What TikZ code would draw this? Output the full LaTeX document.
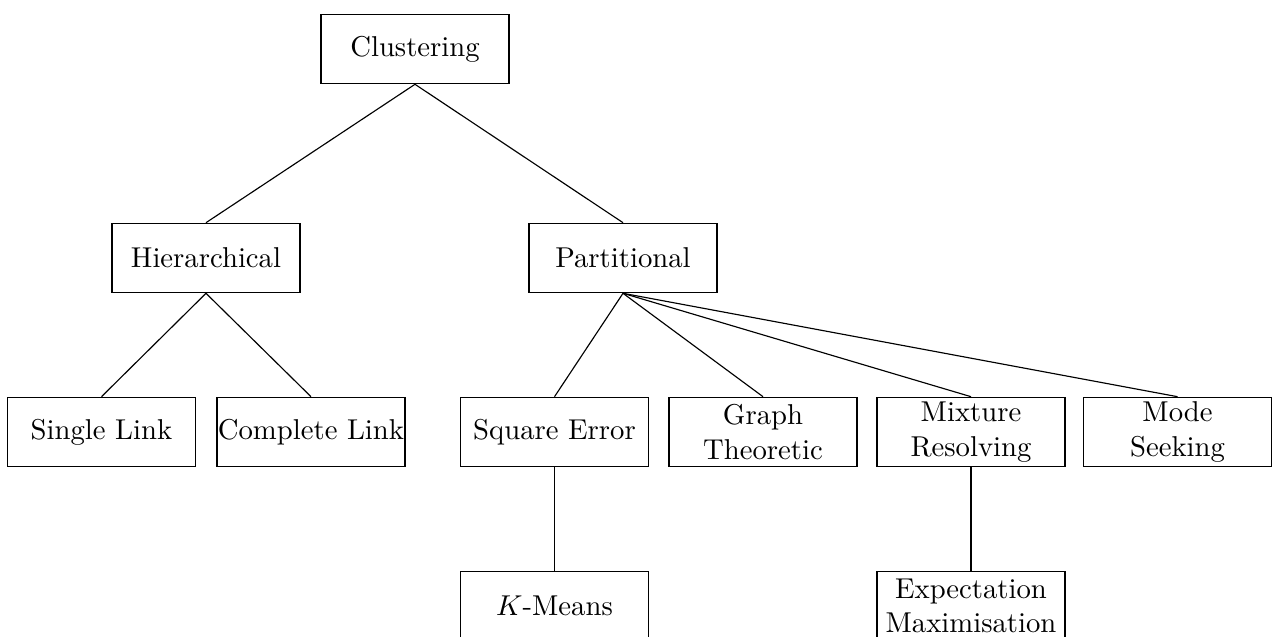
\documentclass[tikz,border=0pt]{standalone}
\begin{document}
\begin{tikzpicture}[x=0.3484pt,y=-0.3484pt,
  box/.style={draw, rectangle, align=center, minimum width=65.5pt,
    minimum height=24.2pt, inner xsep=0pt, inner ysep=1.5pt},
  branch/.style={draw, line width=0.4pt}]
\useasboundingbox (0,0) rectangle (1272,637);

% root and first level
\node[box] (clu)  at (415,49)  {Clustering};
\node[box] (hier) at (206,258) {Hierarchical};
\node[box] (part) at (623,258) {Partitional};

% second level
\node[box] (single)   at (101.5,432) {Single Link};
\node[box] (complete) at (311,432)   {Complete Link};
\node[box] (square)   at (554.5,432) {Square Error};
\node[box] (graph)    at (763,432)   {Graph\\Theoretic};
\node[box] (mixture)  at (971,432)   {Mixture\\Resolving};
\node[box] (mode)     at (1177.5,432) {Mode\\Seeking};

% third level
\node[box] (kmeans) at (554.5,606) {$K$-Means};
\node[box] (em)     at (971,606)   {Expectation\\Maximisation};

% connectors
\draw[branch] (clu.south) -- (hier.north);
\draw[branch] (clu.south) -- (part.north);
\draw[branch] (hier.south) -- (single.north);
\draw[branch] (hier.south) -- (complete.north);
\draw[branch] (part.south) -- (square.north);
\draw[branch] (part.south) -- (graph.north);
\draw[branch] (part.south) -- (mixture.north);
\draw[branch] (part.south) -- (mode.north);
\draw[branch] (square.south) -- (kmeans.north);
\draw[branch] (mixture.south) -- (em.north);
\end{tikzpicture}
\end{document}
